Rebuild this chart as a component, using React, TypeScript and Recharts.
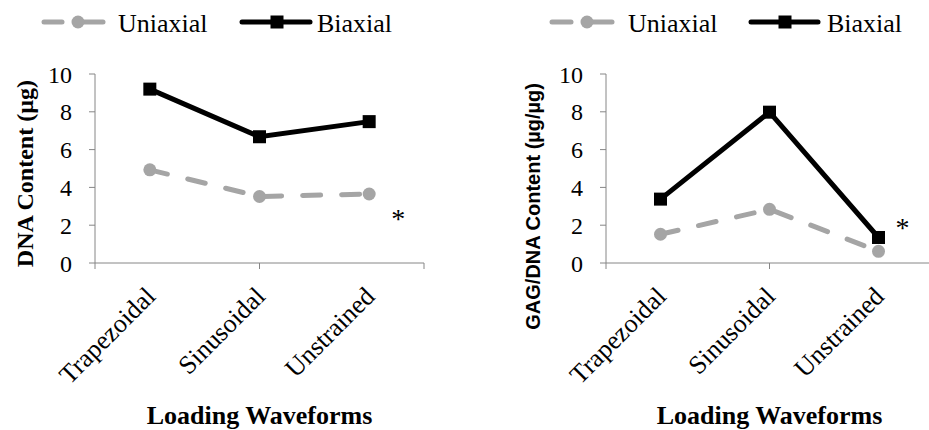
import { LineChart, Line, XAxis, YAxis, Legend, ReferenceDot } from 'recharts'

// categories + values
const waveforms = ['Trapezoidal', 'Sinusoidal', 'Unstrained']
const dnaUniaxial = [4.93, 3.52, 3.65]
const dnaBiaxial = [9.2, 6.68, 7.48]
const gagUniaxial = [1.52, 2.84, 0.62]
const gagBiaxial = [3.38, 7.98, 1.35]
const yTicks = [0, 2, 4, 6, 8, 10]
const boundaryTicks = [0, 1, 2, 3]
const seriesOrder = ['uniaxial', 'biaxial']

const SERIF = '"Liberation Serif", "Times New Roman", serif'
const SANS = '"Liberation Sans", Arial, sans-serif'
const GRAY = '#A5A5A5'
const AXIS = '#868686'

const buildRows = (uni: number[], bi: number[]) =>
  waveforms.map((w, i) => ({ waveform: w, uniaxial: uni[i], biaxial: bi[i] }))

type LegendItem = { x0: number; x1: number; m: number; tx: number }

const makeLegend = (items: LegendItem[]) => (props: any) => {
  const payload = props.payload || []
  return (
    <svg width={460} height={45} style={{ display: 'block' }}>
      {seriesOrder.map((key, i) => {
        const p = payload.find((e: any) => e.dataKey === key)
        const it = items[i]
        if (!p || !it) return null
        const dashed = key === 'uniaxial'
        return (
          <g key={key}>
            {dashed ? (
              <>
                <line x1={it.x0 + 2} x2={it.m - 16} y1={22} y2={22} stroke={p.color} strokeWidth={5} strokeLinecap="round" />
                <line x1={it.m} x2={it.x1 - 2} y1={22} y2={22} stroke={p.color} strokeWidth={5} strokeLinecap="round" />
                <circle cx={it.m} cy={22} r={6.5} fill={p.color} />
              </>
            ) : (
              <>
                <line x1={it.x0 + 2} x2={it.x1 - 2} y1={22} y2={22} stroke={p.color} strokeWidth={5} strokeLinecap="round" />
                <rect x={it.m - 6.5} y={15.5} width={13} height={13} fill={p.color} />
              </>
            )}
            <text x={it.tx} y={32} fontSize={26} fontFamily={SERIF} fill="#000">{p.value}</text>
          </g>
        )
      })}
    </svg>
  )
}

const SlantTick = (props: any) => {
  const { x, y, payload } = props
  return (
    <text
      transform={`translate(${x + 7},${y + 27}) rotate(-45)`}
      textAnchor="end"
      fontSize={26}
      fontFamily={SERIF}
      fill="#000"
    >
      {payload.value}
    </text>
  )
}

const ValueTick = (props: any) => {
  const { x, y, payload } = props
  return (
    <text x={x} y={y} dy="0.36em" textAnchor="end" fontSize={24} fontFamily={SERIF} fill="#000">
      {payload.value}
    </text>
  )
}

const SquareDot = (props: any) => {
  const { cx, cy, stroke } = props
  if (cx == null || cy == null) return null
  return <rect x={cx - 6.5} y={cy - 6.5} width={13} height={13} fill={stroke} />
}

const RoundDot = (props: any) => {
  const { cx, cy, stroke } = props
  if (cx == null || cy == null) return null
  return <circle cx={cx} cy={cy} r={6.5} fill={stroke} />
}

type PanelProps = {
  left: number
  rightMargin: number
  rows: { waveform: string; uniaxial: number; biaxial: number }[]
  yLabel: string
  yLabelFont: string
  yLabelSize: number
  yLabelX: number
  yLabelTop: number
  legendItems: LegendItem[]
  starY: number
  starDx: number
}

function Panel(p: PanelProps) {
  return (
    <div style={{ position: 'absolute', left: p.left, top: 0, width: 460, height: 430 }}>
      <LineChart width={460} height={430} data={p.rows} margin={{ top: 74, right: p.rightMargin, bottom: 0, left: 0 }}>
        <Legend
          layout="horizontal"
          verticalAlign="middle"
          align="center"
          wrapperStyle={{ top: 0, left: 0, width: 460, height: 45 }}
          content={makeLegend(p.legendItems)}
        />
        <YAxis
          width={95}
          domain={[0, 10]}
          ticks={yTicks}
          interval={0}
          tickSize={6}
          tickMargin={17}
          axisLine={{ stroke: AXIS }}
          tickLine={{ stroke: AXIS }}
          tick={<ValueTick />}
          label={{
            content: (lp: any) => {
              const vb = lp.viewBox
              return (
                <text
                  transform={`translate(${vb.x + p.yLabelX},${p.yLabelTop}) rotate(-90)`}
                  textAnchor="end"
                  fontSize={p.yLabelSize}
                  fontWeight="bold"
                  fontFamily={p.yLabelFont}
                  fill="#000"
                >
                  {p.yLabel}
                </text>
              )
            },
          }}
        />
        {/* tick marks between categories */}
        <XAxis
          xAxisId={0}
          type="number"
          domain={[0, 3]}
          ticks={boundaryTicks}
          allowDataOverflow
          height={8}
          tickSize={6}
          axisLine={{ stroke: AXIS }}
          tickLine={{ stroke: AXIS }}
          tickFormatter={() => ''}
        />
        <XAxis
          xAxisId={1}
          dataKey="waveform"
          scale="band"
          height={159}
          interval={0}
          tickSize={0}
          tickMargin={0}
          axisLine={false}
          tickLine={false}
          tick={<SlantTick />}
          label={{
            content: (lp: any) => {
              const vb = lp.viewBox
              return (
                <text x={vb.x + vb.width / 2} y={vb.y + 153} textAnchor="middle" fontSize={26} fontWeight="bold" fontFamily={SERIF} fill="#000">
                  Loading Waveforms
                </text>
              )
            },
          }}
        />
        <Line
          xAxisId={1}
          dataKey="uniaxial"
          name="Uniaxial"
          stroke={GRAY}
          strokeWidth={5}
          strokeDasharray="18 21"
          strokeLinecap="round"
          dot={<RoundDot />}
          activeDot={false}
          isAnimationActive={false}
        />
        <Line
          xAxisId={1}
          dataKey="biaxial"
          name="Biaxial"
          stroke="#000"
          strokeWidth={5}
          dot={<SquareDot />}
          activeDot={false}
          isAnimationActive={false}
        />
        <ReferenceDot
          xAxisId={1}
          x="Unstrained"
          y={p.starY}
          r={1}
          fill="none"
          stroke="none"
          label={{
            content: (lp: any) => {
              const vb = lp.viewBox
              return (
                <text x={vb.x + 1 + p.starDx} y={vb.y + 13} textAnchor="middle" fontSize={28} fontFamily={SERIF} fill="#000">
                  *
                </text>
              )
            },
          }}
        />
      </LineChart>
    </div>
  )
}

export default function App() {
  return (
    <div style={{ position: 'absolute', left: 0, top: 0, width: 929, height: 430, overflow: 'hidden', background: '#fff', fontFamily: SERIF }}>
      <Panel
        left={0}
        rightMargin={36}
        rows={buildRows(dnaUniaxial, dnaBiaxial)}
        yLabel="DNA Content (µg)"
        yLabelFont={SERIF}
        yLabelSize={24}
        yLabelX={33}
        yLabelTop={80}
        legendItems={[
          { x0: 42, x1: 105, m: 78, tx: 118 },
          { x0: 240, x1: 312, m: 277, tx: 317 },
        ]}
        starY={2.5}
        starDx={29}
      />
      <Panel
        left={511}
        rightMargin={38}
        rows={buildRows(gagUniaxial, gagBiaxial)}
        yLabel="GAG/DNA Content (µg/µg)"
        yLabelFont={SANS}
        yLabelSize={20}
        yLabelX={29}
        yLabelTop={83}
        legendItems={[
          { x0: 39, x1: 103, m: 76, tx: 117 },
          { x0: 238, x1: 309, m: 274, tx: 316 },
        ]}
        starY={2.0}
        starDx={24}
      />
    </div>
  )
}
